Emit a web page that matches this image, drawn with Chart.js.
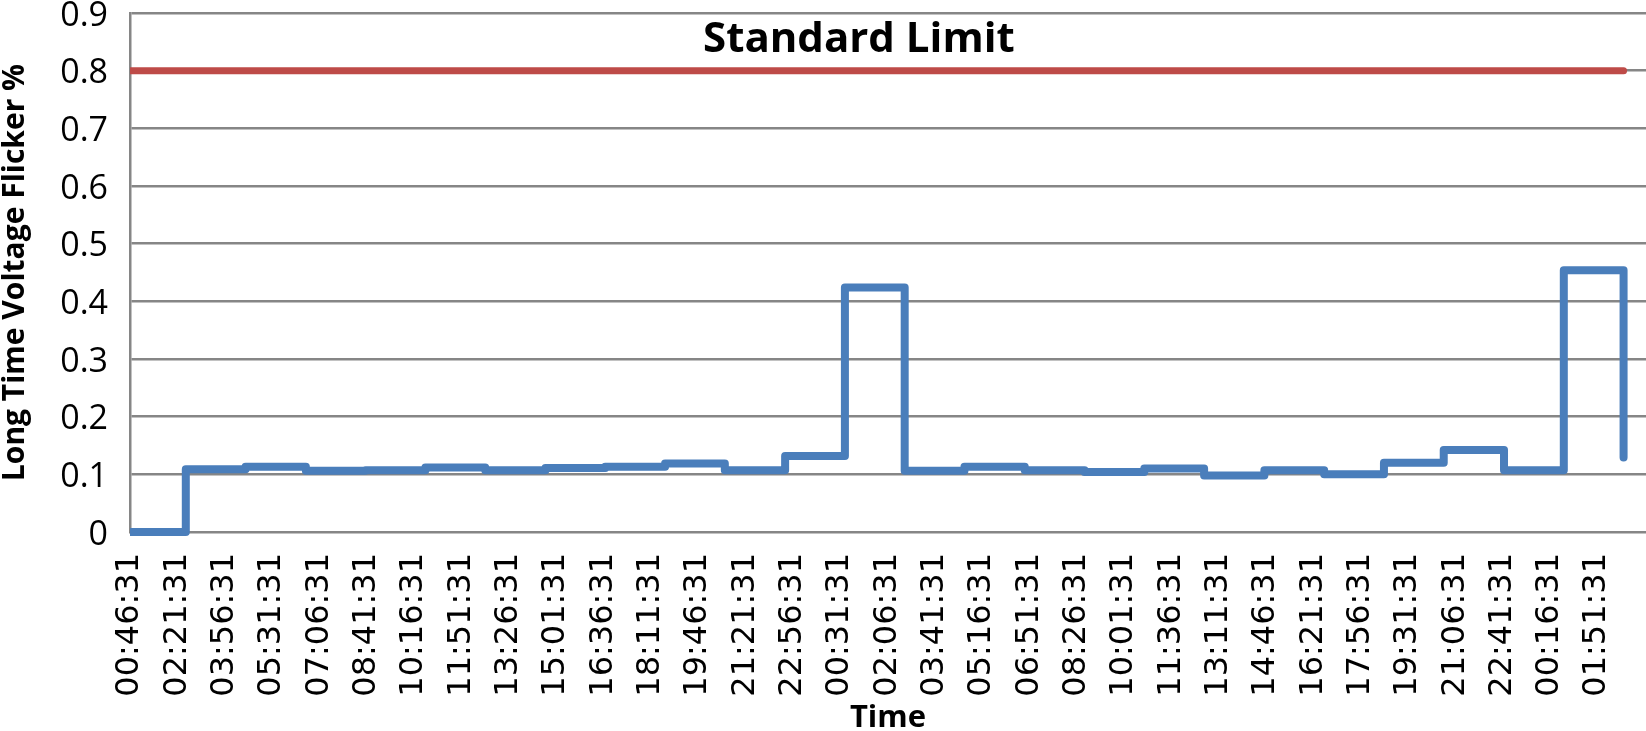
<!DOCTYPE html>
<html>
<head>
<meta charset="utf-8">
<script src="https://cdn.jsdelivr.net/npm/chart.js@4.4.0/dist/chart.umd.min.js"></script>
<style>
html, body { margin: 0; padding: 0; background: #ffffff; }
#wrap { width: 1646px; height: 731px; position: relative; }
</style>
</head>
<body>
<div id="wrap"><canvas id="c"></canvas></div>
<script>
// ---- data ----
// x tick labels, one every 95 minutes from the first sample
const tickLabels = [
  '00:46:31','02:21:31','03:56:31','05:31:31','07:06:31','08:41:31','10:16:31','11:51:31',
  '13:26:31','15:01:31','16:36:31','18:11:31','19:46:31','21:21:31','22:56:31','00:31:31',
  '02:06:31','03:41:31','05:16:31','06:51:31','08:26:31','10:01:31','11:36:31','13:11:31',
  '14:46:31','16:21:31','17:56:31','19:31:31','21:06:31','22:41:31','00:16:31','01:51:31'
];
const tickStepMin = 95;
const yTickLabels = ['0','0.1','0.2','0.3','0.4','0.5','0.6','0.7','0.8','0.9'];

// minutes after 00:46:31 at which each Plt value starts (last = final sample)
const stepStartMin = [
  0, 112, 232, 353, 473, 593, 713, 834, 954, 1074, 1194, 1315, 1435,
  1555, 1675, 1796, 1916, 2036, 2156, 2277, 2397, 2517, 2637, 2758, 2878, 2998
];
// long time voltage flicker (%)
const flickerValues = [
  0, 0.109, 0.113, 0.106, 0.107, 0.112, 0.107, 0.111, 0.113, 0.119, 0.107, 0.132, 0.424,
  0.106, 0.113, 0.107, 0.104, 0.110, 0.098, 0.107, 0.100, 0.120, 0.142, 0.107, 0.454, 0.129
];
// standard limit
const limitTimes = [0, 2998];
const limitValues = [0.8, 0.8];
const limitLabel = 'Standard Limit';
const limitLabelAt = [1463, 0.832];
const xMaxMin = 3043;

const TICK_FONT = '"Open Sans"';
const XTICK_FONT = '"DejaVu Sans"';
const TITLE_FONT = '"Open Sans"';

const limitText = {
  id: 'limitText',
  afterDatasetsDraw(chart) {
    const { ctx, scales: { x, y } } = chart;
    ctx.save();
    ctx.font = 'bold 42px ' + TITLE_FONT;
    ctx.fillStyle = '#000000';
    ctx.textAlign = 'center';
    ctx.textBaseline = 'alphabetic';
    ctx.fillText(limitLabel, x.getPixelForValue(limitLabelAt[0]), y.getPixelForValue(limitLabelAt[1]));
    ctx.restore();
  }
};

new Chart(document.getElementById('c'), {
  type: 'line',
  data: {
    datasets: [
      {
        label: 'Long Time Voltage Flicker',
        data: stepStartMin.map((t, i) => ({ x: t, y: flickerValues[i] })),
        borderColor: '#4A7EBB',
        borderWidth: 8,
        stepped: 'before',
        pointRadius: 0,
        borderJoinStyle: 'round',
        borderCapStyle: 'round',
        fill: false,
        clip: { left: 0, top: 8, right: 8, bottom: 8 }
      },
      {
        label: limitLabel,
        data: limitTimes.map((t, i) => ({ x: t, y: limitValues[i] })),
        borderColor: '#BE4B48',
        borderWidth: 7,
        pointRadius: 0,
        borderCapStyle: 'round',
        fill: false,
        clip: { left: 0, top: 8, right: 8, bottom: 8 }
      }
    ]
  },
  options: {
    responsive: true,
    maintainAspectRatio: false,
    animation: false,
    events: [],
    layout: { padding: { top: 13, right: 0, bottom: 0, left: 0 } },
    plugins: { legend: { display: false }, tooltip: { enabled: false }, title: { display: false } },
    scales: {
      x: {
        type: 'linear',
        min: 0,
        max: xMaxMin,
        afterBuildTicks: (s) => { s.ticks = tickLabels.map((_, i) => ({ value: i * tickStepMin })); },
        afterFit: (s) => { s.height = 199; s.paddingLeft = 0; s.paddingRight = 0; },
        grid: { display: false, drawTicks: false },
        border: { display: false },
        ticks: {
          autoSkip: false,
          minRotation: 90,
          maxRotation: 90,
          padding: 21,
          color: '#000000',
          font: { family: XTICK_FONT, size: 32 },
          callback: (v, i) => tickLabels[i]
        },
        title: {
          display: true,
          text: 'Time',
          color: '#000000',
          font: { family: TITLE_FONT, size: 31, weight: 'bold', lineHeight: 0.8 },
          padding: { top: 0, bottom: 0 }
        }
      },
      y: {
        min: 0,
        max: 0.9,
        afterFit: (s) => { s.width = 130; s.paddingTop = 0; s.paddingBottom = 0; },
        afterBuildTicks: (s) => { s.ticks = yTickLabels.map((_, i) => ({ value: i / 10 })); },
        grid: { color: '#868686', lineWidth: 2.5, drawTicks: false },
        border: { display: true, color: '#868686', width: 2.5 },
        ticks: {
          padding: 22,
          labelOffset: 3,
          color: '#000000',
          font: { family: TICK_FONT, size: 34 },
          callback: (v, i) => yTickLabels[i]
        },
        title: {
          display: true,
          text: 'Long Time Voltage Flicker %',
          color: '#000000',
          font: { family: TITLE_FONT, size: 30, weight: 'bold', lineHeight: 1.0 },
          padding: { top: 0, bottom: 0 }
        }
      }
    }
  },
  plugins: [limitText]
});
</script>
</body>
</html>
